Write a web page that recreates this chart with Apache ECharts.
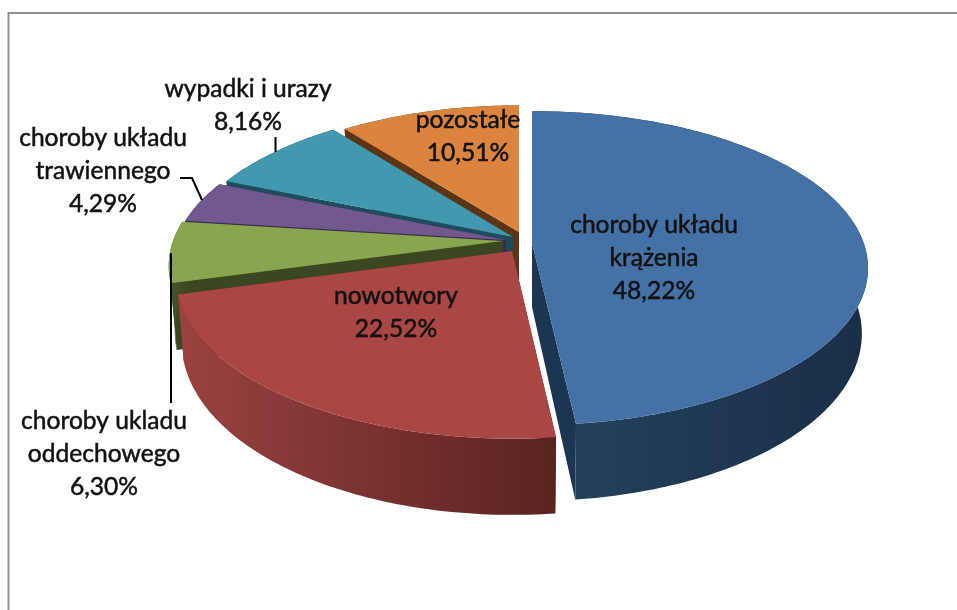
<!DOCTYPE html>
<html>
<head>
<meta charset="utf-8">
<style>
  html, body { margin: 0; padding: 0; background: #fff; }
  #main { width: 957px; height: 610px; }
</style>
</head>
<body>
<div id="main"></div>
<script src="https://cdn.jsdelivr.net/npm/echarts@6/dist/echarts.min.js"></script>
<script>
// dane, kolejnosc zgodna z ruchem wskazowek zegara od godz. 12
const categories = [
  'choroby układu\nkrążenia',
  'nowotwory',
  'choroby ukladu\noddechowego',
  'choroby układu\ntrawiennego',
  'wypadki i urazy',
  'pozostałe'
]
const values = [48.22, 22.52, 6.30, 4.29, 8.16, 10.51]

const topColors = ['#4471a6', '#aa4643', '#89a54e', '#71588f', '#4198af', '#db843d']
const edgeColors = ['#1c3552', '#5a2320', '#3b4722', '#3a2b50', '#1f4c5a', '#5c3516']
const wallStops = [
  ['#25435f', '#1a2e47'],
  ['#9a4240', '#5a2320'],
  ['#46552a', '#3b4722'],
  ['#3a2b50', '#3a2b50'],
  ['#1f4c5a', '#1f4c5a'],
  ['#5c3516', '#5c3516']
]
// wierzcholki wycinkow (wycinki sa rozsuniete): x, y, skala x, skala y
const apexes = [
  [532, 243, 1.005, 1],
  [512, 251, 1.006, 1.03],
  [503, 241, 1, 1],
  [506, 240, 1, 1],
  [513, 237, 1, 1],
  [519, 232, 0.97, 0.96]
]
// kolejnosc rysowania: wieksze na wierzchu
const zOrder = [6, 5, 4, 3, 2, 1]
const labelPos = [[654, 226], [396, 297], [104, 422], [103, 139], [248, 90], [468, 121]]
const leaders = [
  [[275.5, 137], [275.5, 152]],
  [[180, 178], [192, 178], [202, 200]],
  [[171, 253], [171, 403]]
]

// rzut kola z perspektywa: gorna i dolna podstawa
const topDisc = { R: 330, A: 153, k: 0.16, dy: 0 }
const botDisc = { R: 324, A: 163, k: 0.16, dy: 64 }

const total = values.reduce((a, b) => a + b, 0)
const starts = []
values.reduce((acc, v, i) => { starts[i] = acc; return acc + v }, 0)

function rimPoint (i, deg, disc) {
  const t = deg * Math.PI / 180
  const u = Math.sin(t)
  const v = Math.cos(t)
  const w = 1 + disc.k * v
  const a = apexes[i]
  return [a[0] + disc.R * a[2] * u / w, a[1] + disc.dy - disc.A * a[3] * v / w]
}

function rim (i, from, to, disc) {
  const pts = []
  const n = Math.max(2, Math.ceil(to - from))
  for (let s = 0; s <= n; s++) pts.push(rimPoint(i, from + (to - from) * s / n, disc))
  return pts
}

function renderSlice (params, api) {
  const i = params.dataIndex
  const from = api.value(1) / total * 360
  const to = from + api.value(2) / total * 360
  const a = apexes[i]
  const top = [a[0], a[1]]
  const bot = [a[0], a[1] + botDisc.dy]
  const base = zOrder[i] * 10
  const wall = new echarts.graphic.LinearGradient(0, 0, 1, 0, [
    { offset: 0, color: wallStops[i][0] },
    { offset: 1, color: wallStops[i][1] }
  ])
  const poly = (points, fill, z) => ({
    type: 'polygon',
    z2: base + z,
    shape: { points: points },
    style: { fill: fill }
  })
  return {
    type: 'group',
    children: [
      poly([top, rimPoint(i, from, topDisc), rimPoint(i, from, botDisc), bot], edgeColors[i], 0),
      poly([top, rimPoint(i, to, topDisc), rimPoint(i, to, botDisc), bot], edgeColors[i], 1),
      poly(rim(i, from, to, topDisc).concat(rim(i, from, to, botDisc).reverse()), wall, 2),
      poly([top].concat(rim(i, from, to, topDisc)), topColors[i], 3),
      {
        type: 'text',
        z2: 500,
        style: {
          x: labelPos[i][0],
          y: labelPos[i][1] - 17,
          text: categories[i] + '\n' + api.value(2).toFixed(2).replace('.', ',') + '%',
          textAlign: 'center',
          textVerticalAlign: 'top',
          fill: '#111',
          stroke: '#111',
          lineWidth: 0.5,
          font: '24.6px Lato',
          lineHeight: 33
        }
      }
    ]
  }
}

const myChart = echarts.init(document.getElementById('main'), null, { renderer: 'canvas' })
myChart.setOption({
  backgroundColor: '#fff',
  animation: false,
  series: [{
    type: 'custom',
    coordinateSystem: 'none',
    silent: true,
    renderItem: renderSlice,
    data: values.map((v, i) => [i, starts[i], v])
  }],
  graphic: [
    {
      type: 'polyline',
      z: 1,
      silent: true,
      shape: { points: [[8.5, 612], [8.5, 13], [960, 13]] },
      style: { stroke: '#8f8f8f', lineWidth: 2, fill: null }
    }
  ].concat(leaders.map(pts => ({
    type: 'polyline',
    z: 10,
    silent: true,
    shape: { points: pts },
    style: { stroke: '#000', lineWidth: 2, fill: null }
  })))
})
</script>
</body>
</html>
